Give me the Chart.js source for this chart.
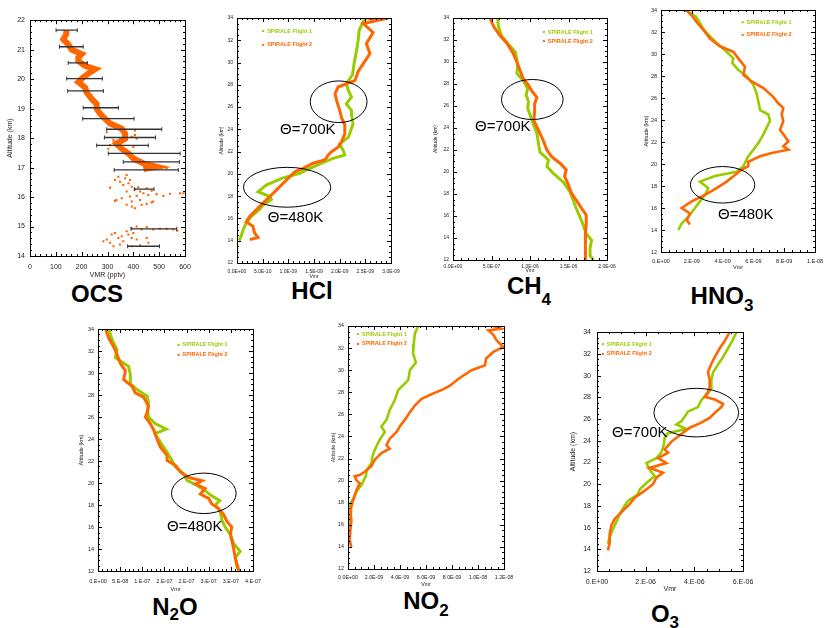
<!DOCTYPE html>
<html>
<head>
<meta charset="utf-8">
<title>SPIRALE profiles</title>
<script src="https://cdn.jsdelivr.net/npm/chart.js@4.4.1/dist/chart.umd.min.js"></script>
<style>
  html, body { margin: 0; padding: 0; background: #fff; }
  body { width: 832px; height: 628px; position: relative; overflow: hidden; font-family: 'Liberation Sans', Arial, sans-serif; }
  canvas { position: absolute; }
  .name { position: absolute; font-weight: bold; font-size: 24px; line-height: 24px; transform: translateX(-50%); white-space: nowrap; color: #000; }
  .name sub { font-size: 17px; line-height: 0; }
</style>
</head>
<body>
<div class="name" style="left:97px;top:282px">OCS</div>
<div class="name" style="left:312px;top:279px">HCl</div>
<div class="name" style="left:529px;top:274px">CH<sub style="vertical-align:-11px">4</sub></div>
<div class="name" style="left:722px;top:284px">HNO<sub style="vertical-align:-7px">3</sub></div>
<div class="name" style="left:175px;top:595px">N<sub style="vertical-align:-5px">2</sub>O</div>
<div class="name" style="left:426px;top:589px">NO<sub style="vertical-align:-7px">2</sub></div>
<div class="name" style="left:665px;top:602px">O<sub style="vertical-align:-6px">3</sub></div>
<script>
// ---- data ----
const altTicks = [12, 14, 16, 18, 20, 22, 24, 26, 28, 30, 32, 34];
const ocsAltTicks = [14, 15, 16, 17, 18, 19, 20, 21, 22];
const ocsXTicks = [0, 100, 200, 300, 400, 500, 600];

// OCS (pptv): dense band, scattered dots, error bars
const ocsBandAlt = [21.66, 21.5, 21.35, 21.18, 21.0, 20.85, 20.73, 20.62, 20.45, 20.34, 20.23, 20.06, 19.9, 19.72, 19.55, 19.33, 19.16, 19.0, 18.83, 18.66, 18.5, 18.32, 18.15, 17.98, 17.81, 17.64, 17.48, 17.31, 17.14, 17.03, 16.95];
const ocsBandVmr = [142, 139, 129, 148, 161, 200, 187, 187, 213, 252, 232, 206, 187, 213, 219, 239, 258, 258, 271, 290, 310, 355, 368, 368, 335, 355, 381, 400, 439, 490, 439];
const ocsDotVmr = [329, 348, 368, 381, 394, 361, 310, 342, 387, 374, 406, 426, 452, 471, 439, 419, 374, 335, 355, 387, 413, 458, 490, 516, 542, 581, 594, 394, 426, 452, 477, 374, 394, 406, 471, 329, 432, 394, 413, 432, 452, 477, 503, 529, 555, 570, 297, 316, 329, 310, 342, 361, 381, 394, 323, 348, 413, 452, 458, 394, 426, 284, 355, 374, 400, 490, 529, 465, 510, 426, 452, 400, 374, 335, 329, 394, 406, 297, 323, 406, 413, 303, 400, 310];
const ocsDotAlt = [16.58, 16.52, 16.64, 16.47, 16.35, 16.41, 16.32, 16.69, 16.58, 16.75, 16.26, 16.19, 16.30, 16.22, 16.13, 16.33, 16.19, 15.9, 15.96, 16.02, 16.04, 16.07, 16.1, 16.04, 16.11, 16.13, 16.13, 15.85, 15.9, 15.77, 15.85, 15.74, 15.68, 15.62, 15.82, 15.87, 15.74, 14.95, 15.0, 14.9, 14.98, 14.9, 14.92, 14.92, 14.9, 14.86, 14.56, 14.73, 14.78, 14.45, 14.61, 14.5, 14.73, 14.61, 14.33, 14.39, 14.56, 14.61, 14.45, 14.33, 14.36, 14.5, 14.67, 14.84, 14.78, 16.97, 16.97, 17.08, 17.03, 17.25, 17.14, 17.36, 17.53, 17.7, 17.87, 18.04, 18.26, 18.2, 17.93, 18.1, 17.98, 17.64, 17.7, 17.76];
const ocsErrAlt = [21.66, 21.1, 20.55, 20.02, 19.6, 19.03, 18.66, 18.3, 18.02, 17.75, 17.48, 17.19, 16.92, 16.27, 14.92, 14.33];
const ocsErrLo = [101, 114, 148, 142, 146, 206, 204, 297, 288, 258, 303, 361, 326, 404, 391, 378];
const ocsErrHi = [183, 206, 222, 280, 284, 342, 403, 510, 486, 458, 581, 578, 574, 480, 568, 501];

// HCl
const hclXTicks = [0, 5e-10, 1e-9, 1.5e-9, 2e-9, 2.5e-9, 3e-9];
const hclXLabels = ['0.0E+00', '5.0E-10', '1.0E-09', '1.5E-09', '2.0E-09', '2.5E-09', '3.0E-09'];
const hclF1Alt = [34, 32.9, 32, 31.1, 29.9, 28.9, 28.1, 27.5, 26.9, 26.3, 25.7, 25.3, 24.5, 24.1, 23.3, 22.7, 22.1, 21.7, 21.4, 20.96, 20.5, 20.06, 19.6, 19.0, 18.4, 17.97, 17.7, 17.2, 16.8, 16.2, 15.6, 15.0, 14.4, 14.0];
const hclF1Vmr = [2.49e-9, 2.38e-9, 2.36e-9, 2.33e-9, 2.28e-9, 2.25e-9, 2.13e-9, 2.17e-9, 2.23e-9, 2.13e-9, 2.23e-9, 2.23e-9, 2.26e-9, 2.23e-9, 2.17e-9, 2.00e-9, 2.07e-9, 2.10e-9, 1.87e-9, 1.65e-9, 1.42e-9, 1.22e-9, 0.87e-9, 0.57e-9, 0.41e-9, 0.64e-9, 0.67e-9, 0.51e-9, 0.44e-9, 0.28e-9, 0.18e-9, 0.12e-9, 0.08e-9, 0.04e-9];
const hclF2Alt = [34, 33.85, 33.5, 32.7, 31.7, 30.8, 30.1, 29.2, 28.4, 27.8, 27.2, 26.6, 25.7, 25.0, 24.4, 23.6, 22.9, 22.4, 22.0, 21.7, 21.25, 20.96, 20.5, 20.2, 19.76, 19.16, 18.57, 17.97, 17.4, 16.8, 16.2, 15.7, 15.3, 14.7, 14.3, 14.1];
const hclF2Vmr = [2.50e-9, 2.80e-9, 2.46e-9, 2.65e-9, 2.52e-9, 2.59e-9, 2.49e-9, 2.36e-9, 2.30e-9, 1.97e-9, 1.91e-9, 1.94e-9, 2.00e-9, 2.04e-9, 2.10e-9, 2.10e-9, 2.04e-9, 1.97e-9, 1.84e-9, 1.78e-9, 1.71e-9, 1.48e-9, 1.29e-9, 1.13e-9, 1.03e-9, 0.90e-9, 0.77e-9, 0.64e-9, 0.51e-9, 0.38e-9, 0.25e-9, 0.18e-9, 0.31e-9, 0.34e-9, 0.41e-9, 0.25e-9];

// CH4
const ch4XTicks = [0, 5e-7, 1e-6, 1.5e-6, 2e-6];
const ch4XLabels = ['0.0E+00', '5.0E-07', '1.0E-06', '1.5E-06', '2.0E-06'];
const ch4F1Alt = [34, 33.2, 32.4, 31.7, 30.9, 30.2, 29.6, 28.95, 28.35, 27.6, 27.0, 26.4, 25.8, 25.2, 24.4, 23.5, 22.6, 21.8, 21.1, 20.5, 19.9, 19.1, 18.2, 17.45, 16.7, 15.9, 15.2, 14.4, 13.8, 13.1, 12.4, 12.0];
const ch4F1Vmr = [0.58e-6, 0.59e-6, 0.63e-6, 0.71e-6, 0.81e-6, 0.83e-6, 0.84e-6, 0.83e-6, 0.91e-6, 0.97e-6, 0.95e-6, 0.98e-6, 0.97e-6, 1.00e-6, 1.04e-6, 1.09e-6, 1.11e-6, 1.13e-6, 1.24e-6, 1.22e-6, 1.30e-6, 1.43e-6, 1.52e-6, 1.56e-6, 1.60e-6, 1.65e-6, 1.69e-6, 1.73e-6, 1.80e-6, 1.78e-6, 1.78e-6, 1.82e-6];
const ch4F2Alt = [34, 33.2, 32.4, 31.7, 30.8, 30.0, 29.25, 28.5, 27.9, 27.4, 26.8, 26.2, 25.5, 24.7, 23.8, 22.9, 22.0, 21.4, 20.8, 20.2, 19.6, 18.8, 18.05, 17.45, 16.7, 16.1, 15.3, 14.4, 13.2, 12.0];
const ch4F2Vmr = [0.48e-6, 0.53e-6, 0.61e-6, 0.70e-6, 0.78e-6, 0.83e-6, 0.87e-6, 0.91e-6, 0.98e-6, 1.02e-6, 1.09e-6, 1.06e-6, 1.06e-6, 1.05e-6, 1.11e-6, 1.17e-6, 1.22e-6, 1.28e-6, 1.39e-6, 1.47e-6, 1.45e-6, 1.50e-6, 1.54e-6, 1.60e-6, 1.67e-6, 1.73e-6, 1.73e-6, 1.72e-6, 1.72e-6, 1.72e-6];

// HNO3
const hno3XTicks = [0, 2e-9, 4e-9, 6e-9, 8e-9, 1e-8];
const hno3XLabels = ['0.E+00', '2.E-09', '4.E-09', '6.E-09', '8.E-09', '1.E-08'];
const hno3F1Alt = [34, 33.4, 32.8, 32.2, 31.6, 31.0, 30.2, 29.6, 29.2, 28.55, 28.0, 27.2, 26.4, 25.7, 24.9, 24.5, 23.9, 23.3, 22.7, 21.9, 21.3, 20.7, 20.1, 19.8, 19.3, 18.9, 18.4, 17.8, 17.2, 16.6, 16.0, 15.2, 14.6, 14.0];
const hno3F1Vmr = [1.56e-9, 2.27e-9, 2.53e-9, 2.79e-9, 3.18e-9, 3.61e-9, 4.26e-9, 4.70e-9, 4.63e-9, 5.02e-9, 5.56e-9, 6.00e-9, 6.21e-9, 6.32e-9, 6.43e-9, 6.97e-9, 7.08e-9, 6.86e-9, 6.65e-9, 6.32e-9, 6.00e-9, 5.67e-9, 5.45e-9, 5.35e-9, 4.91e-9, 3.50e-9, 2.53e-9, 3.07e-9, 2.86e-9, 2.53e-9, 2.21e-9, 1.77e-9, 1.34e-9, 1.13e-9];
const hno3F2Alt = [34, 33.5, 32.9, 32.2, 31.4, 30.7, 30.2, 29.6, 28.85, 28.1, 27.5, 26.9, 26.1, 25.5, 25.1, 24.5, 23.9, 23.1, 22.5, 22.05, 21.6, 21.3, 21.0, 20.7, 20.2, 19.8, 19.5, 19.0, 18.4, 17.8, 17.2, 16.6, 16.0, 15.5, 14.9, 14.5];
const hno3F2Vmr = [1.67e-9, 2.00e-9, 2.32e-9, 2.75e-9, 3.18e-9, 3.83e-9, 4.70e-9, 5.02e-9, 5.45e-9, 5.35e-9, 5.89e-9, 6.65e-9, 7.29e-9, 7.62e-9, 7.94e-9, 7.84e-9, 7.94e-9, 7.73e-9, 8.05e-9, 8.27e-9, 7.94e-9, 8.27e-9, 7.19e-9, 6.43e-9, 5.67e-9, 5.67e-9, 5.24e-9, 4.81e-9, 4.26e-9, 3.61e-9, 2.86e-9, 2.00e-9, 1.34e-9, 1.88e-9, 1.67e-9, 1.88e-9];

// N2O
const n2oXTicks = [0, 5e-8, 1e-7, 1.5e-7, 2e-7, 2.5e-7, 3e-7, 3.5e-7];
const n2oXLabels = ['0.E+00', '5.E-08', '1.E-07', '2.E-07', '2.E-07', '3.E-07', '3.E-07', '4.E-07'];
const n2oF1Alt = [34, 33.0, 32.1, 31.4, 30.6, 29.9, 29.0, 28.5, 27.9, 27.3, 26.6, 26.0, 25.4, 24.9, 24.5, 23.7, 22.8, 22.05, 21.45, 20.85, 20.24, 19.8, 19.3, 18.9, 18.4, 18.0, 17.4, 16.6, 16.0, 15.3, 14.5, 13.8, 13.2, 12.4, 12.0];
const n2oF1Vmr = [0.24e-7, 0.32e-7, 0.43e-7, 0.39e-7, 0.69e-7, 0.73e-7, 0.73e-7, 0.88e-7, 1.11e-7, 1.14e-7, 1.12e-7, 1.14e-7, 1.29e-7, 1.54e-7, 1.29e-7, 1.41e-7, 1.56e-7, 1.67e-7, 1.75e-7, 1.93e-7, 2.01e-7, 2.23e-7, 2.42e-7, 2.54e-7, 2.75e-7, 2.65e-7, 2.76e-7, 2.80e-7, 2.87e-7, 2.99e-7, 3.06e-7, 3.21e-7, 3.10e-7, 3.14e-7, 3.18e-7];
const n2oF2Alt = [34, 33.2, 32.4, 31.7, 30.9, 30.2, 29.4, 28.8, 28.2, 27.8, 27.0, 26.4, 26.0, 25.4, 24.8, 24.0, 23.25, 22.5, 22.05, 21.6, 21.0, 20.5, 20.2, 19.9, 19.5, 19.0, 18.6, 18.1, 17.7, 17.1, 16.5, 16.0, 15.4, 14.8, 14.1, 13.2, 12.0];
const n2oF2Vmr = [0.17e-7, 0.24e-7, 0.35e-7, 0.43e-7, 0.50e-7, 0.62e-7, 0.58e-7, 0.77e-7, 0.84e-7, 1.03e-7, 1.14e-7, 1.11e-7, 1.07e-7, 1.18e-7, 1.26e-7, 1.33e-7, 1.41e-7, 1.56e-7, 1.56e-7, 1.75e-7, 1.86e-7, 2.05e-7, 2.35e-7, 2.20e-7, 2.42e-7, 2.31e-7, 2.50e-7, 2.57e-7, 2.72e-7, 2.84e-7, 2.91e-7, 3.02e-7, 2.99e-7, 3.02e-7, 3.06e-7, 3.10e-7, 3.18e-7];

// NO2
const no2XTicks = [0, 2e-9, 4e-9, 6e-9, 8e-9, 1e-8, 1.2e-8];
const no2XLabels = ['0.0E+00', '2.0E-09', '4.0E-09', '6.0E-09', '8.0E-09', '1.0E-08', '1.2E-08'];
const no2F1Alt = [34, 33.3, 32.4, 31.5, 30.7, 30.0, 29.1, 28.2, 27.3, 26.4, 25.5, 24.9, 24.4, 23.7, 22.8, 22.2, 21.6, 21.0, 20.4, 19.6, 19.0, 18.4, 17.9, 17.3, 16.4, 15.7, 14.9, 14.2];
const no2F1Vmr = [5.40e-9, 5.14e-9, 5.06e-9, 5.01e-9, 5.22e-9, 4.76e-9, 4.63e-9, 3.86e-9, 3.60e-9, 3.21e-9, 2.96e-9, 2.57e-9, 2.83e-9, 2.44e-9, 2.06e-9, 1.88e-9, 1.80e-9, 1.47e-9, 1.36e-9, 1.03e-9, 0.64e-9, 0.44e-9, 0.13e-9, 0.26e-9, 0.13e-9, 0.02e-9, 0.08e-9, 0.13e-9];
const no2F2Alt = [34, 33.76, 33.6, 33.2, 32.7, 32.1, 31.65, 31.05, 30.45, 30.0, 29.2, 28.6, 28.2, 27.9, 27.4, 26.8, 26.2, 25.5, 24.9, 24.4, 23.8, 23.2, 22.9, 22.5, 21.9, 21.3, 20.8, 20.5, 20.4, 20.05, 19.75, 19.1, 18.2, 17.3, 16.4, 15.5, 14.6, 14.0];
const no2F2Vmr = [11.18e-9, 11.8e-9, 10.8e-9, 11.18e-9, 11.44e-9, 11.95e-9, 11.18e-9, 10.62e-9, 10.54e-9, 9.51e-9, 8.48e-9, 7.84e-9, 7.20e-9, 6.56e-9, 5.66e-9, 5.14e-9, 4.76e-9, 4.37e-9, 3.98e-9, 3.73e-9, 3.21e-9, 2.96e-9, 3.21e-9, 2.57e-9, 2.06e-9, 1.80e-9, 1.29e-9, 0.90e-9, 0.51e-9, 0.64e-9, 0.90e-9, 0.64e-9, 0.39e-9, 0.18e-9, 0.26e-9, 0.18e-9, 0.13e-9, 0.26e-9];

// O3
const o3XTicks = [0, 2e-6, 4e-6, 6e-6];
const o3XLabels = ['0.E+00', '2.E-06', '4.E-06', '6.E-06'];
const o3F1Alt = [34, 33.2, 32.5, 31.7, 31.0, 30.3, 29.6, 28.8, 28.35, 27.75, 27.1, 26.7, 26.2, 25.8, 25.5, 25.1, 24.7, 24.25, 23.6, 22.9, 22.4, 21.95, 21.35, 20.75, 20.1, 19.5, 19.06, 18.45, 17.8, 17.2, 16.5, 15.9, 15.1, 14.5];
const o3F1Vmr = [5.73e-6, 5.56e-6, 5.38e-6, 5.18e-6, 4.97e-6, 4.77e-6, 4.70e-6, 4.70e-6, 4.56e-6, 4.29e-6, 4.15e-6, 3.74e-6, 3.60e-6, 3.47e-6, 3.26e-6, 3.67e-6, 2.92e-6, 2.78e-6, 2.74e-6, 2.64e-6, 2.44e-6, 2.03e-6, 2.16e-6, 2.37e-6, 2.03e-6, 1.75e-6, 1.68e-6, 1.27e-6, 1.07e-6, 0.93e-6, 0.79e-6, 0.66e-6, 0.52e-6, 0.45e-6];
const o3F2Alt = [34, 33.2, 32.5, 31.7, 31.1, 30.3, 29.7, 28.96, 28.5, 28.05, 27.8, 27.4, 27.1, 26.7, 26.1, 25.6, 25.2, 24.5, 23.9, 23.2, 22.9, 22.4, 21.95, 21.5, 21.05, 20.6, 20.0, 19.4, 18.75, 18.15, 17.4, 16.8, 16.2, 15.4, 14.6, 13.9];
const o3F2Vmr = [5.45e-6, 5.25e-6, 5.04e-6, 4.84e-6, 4.70e-6, 4.56e-6, 4.63e-6, 4.63e-6, 4.56e-6, 4.42e-6, 4.84e-6, 5.18e-6, 5.11e-6, 4.90e-6, 4.63e-6, 4.22e-6, 3.81e-6, 3.40e-6, 3.05e-6, 2.78e-6, 2.92e-6, 2.51e-6, 2.85e-6, 2.16e-6, 2.71e-6, 2.44e-6, 2.30e-6, 1.96e-6, 1.55e-6, 1.34e-6, 1.00e-6, 0.73e-6, 0.59e-6, 0.52e-6, 0.52e-6, 0.45e-6];

// ---- drawing ----
const GREEN = '#99cc00';
const ORANGE = '#ff6600';
const FONT = "'Liberation Sans', Arial, sans-serif";

function pts(xs, ys) {
  return xs.map((v, i) => ({ x: v, y: ys[i] }));
}

function profile(label, vmr, alt, color, order, width) {
  return { label: label, data: pts(vmr, alt), showLine: true, borderColor: color, backgroundColor: color,
           borderWidth: width || 3, pointRadius: 0, order: order };
}

// box around the plot and inward ticks on all four sides
const framePlugin = {
  id: 'frame',
  afterDraw(chart) {
    const o = chart.options.plugins.frame;
    const { ctx, chartArea: a } = chart;
    const x = chart.scales.x, y = chart.scales.y;
    ctx.save();
    ctx.strokeStyle = '#000';
    ctx.lineWidth = 1;
    ctx.strokeRect(Math.round(a.left) + 0.5, Math.round(a.top) + 0.5, Math.round(a.right - a.left), Math.round(a.bottom - a.top));
    ctx.beginPath();
    const nx = Math.round((x.max - x.min) / o.xMinor);
    for (let i = 0; i <= nx; i++) {
      const px = Math.round(x.getPixelForValue(x.min + i * o.xMinor)) + 0.5;
      const len = i % o.xEvery === 0 ? 4 : 2;
      ctx.moveTo(px, a.bottom); ctx.lineTo(px, a.bottom - len);
      ctx.moveTo(px, a.top); ctx.lineTo(px, a.top + len);
    }
    const ny = Math.round((y.max - y.min) / o.yMinor);
    for (let i = 0; i <= ny; i++) {
      const py = Math.round(y.getPixelForValue(y.min + i * o.yMinor)) + 0.5;
      const len = i % o.yEvery === 0 ? 4 : 2;
      ctx.moveTo(a.left, py); ctx.lineTo(a.left + len, py);
      ctx.moveTo(a.right, py); ctx.lineTo(a.right - len, py);
    }
    ctx.stroke();
    ctx.restore();
  }
};

// ellipses, theta labels and the small flight legend
const overlayPlugin = {
  id: 'overlay',
  afterDatasetsDraw(chart) {
    const o = chart.options.plugins.overlay;
    if (!o) return;
    const { ctx, chartArea: a } = chart;
    const x = chart.scales.x, y = chart.scales.y;
    const aw = a.right - a.left, ah = a.bottom - a.top;
    ctx.save();
    (o.ellipses || []).forEach(e => {
      const cx = x.getPixelForValue(e.x), cy = y.getPixelForValue(e.y);
      const rx = Math.abs(x.getPixelForValue(e.x + e.rx) - cx);
      const ry = Math.abs(y.getPixelForValue(e.y + e.ry) - cy);
      ctx.beginPath();
      ctx.ellipse(cx, cy, rx, ry, 0, 0, Math.PI * 2);
      ctx.strokeStyle = '#000';
      ctx.lineWidth = 1;
      ctx.stroke();
    });
    ctx.textBaseline = 'middle';
    ctx.textAlign = 'left';
    (o.labels || []).forEach(t => {
      ctx.font = '15px ' + FONT;
      ctx.fillStyle = '#000';
      ctx.fillText(t.text, a.left + t.fx * aw, a.top + t.fy * ah);
    });
    (o.legend || []).forEach(l => {
      const px = a.left + l.fx * aw, py = a.top + l.fy * ah;
      ctx.fillStyle = l.color;
      ctx.fillRect(px - 1, py - 1, 2, 2);
      ctx.font = 'bold 5.5px ' + FONT;
      ctx.fillText(l.text, px + 4, py);
    });
    ctx.restore();
  }
};

function spiraleLegend(fx, fy1, fy2) {
  return [
    { fx: fx, fy: fy1, text: 'SPIRALE Flight 1', color: GREEN },
    { fx: fx, fy: fy2, text: 'SPIRALE Flight 2', color: ORANGE }
  ];
}

function makePanel(p) {
  const T = 8, R = 18;
  const L = Math.round(p.yTitleGap + 0.6 * p.fs);
  const B = Math.round(p.xTitleGap + 0.6 * p.fs);
  const W = p.w + L + R, H = p.h + T + B;
  const cv = document.createElement('canvas');
  cv.width = W; cv.height = H;
  cv.style.left = (p.left - L) + 'px';
  cv.style.top = (p.top - T) + 'px';
  cv.style.width = W + 'px';
  cv.style.height = H + 'px';
  document.body.appendChild(cv);
  const font = { family: FONT, size: p.fs };
  new Chart(cv, {
    type: 'scatter',
    data: { datasets: p.datasets },
    options: {
      responsive: false,
      animation: false,
      devicePixelRatio: 1,
      layout: { padding: { top: T, right: R, left: 0, bottom: 0 } },
      plugins: { legend: { display: false }, tooltip: { enabled: false }, frame: p.frame, overlay: p.overlay },
      scales: {
        x: {
          type: 'linear',
          min: p.xTicks[0],
          max: p.xTicks[p.xTicks.length - 1],
          afterBuildTicks: s => { s.ticks = p.xTicks.map(v => ({ value: v })); },
          afterFit: s => { s.height = B; },
          grid: { display: false, drawTicks: false },
          border: { display: false },
          ticks: { autoSkip: false, maxRotation: 0, minRotation: 0, padding: p.xLabelGap - 0.6 * p.fs, font: font, color: '#222',
                   callback: (v, i) => p.xLabels[i] },
          title: { display: true, text: p.xTitle, font: font, color: '#222', padding: 0 }
        },
        y: {
          type: 'linear',
          min: p.yTicks[0],
          max: p.yTicks[p.yTicks.length - 1],
          afterBuildTicks: s => { s.ticks = p.yTicks.map(v => ({ value: v })); },
          afterFit: s => { s.width = L; },
          grid: { display: false, drawTicks: false },
          border: { display: false },
          ticks: { autoSkip: false, padding: p.yPad, font: font, color: '#222', callback: v => String(v) },
          title: { display: true, text: 'Altitude (km)', font: font, color: '#222', padding: 0 }
        }
      }
    },
    plugins: [framePlugin, overlayPlugin]
  });
}

// OCS
const ocsDatasets = ocsErrAlt.map((h, i) => ({
  data: [{ x: ocsErrLo[i], y: h }, { x: ocsErrHi[i], y: h }],
  showLine: true, borderColor: '#333', borderWidth: 1.3,
  pointStyle: 'line', rotation: 90, pointRadius: 2, pointBorderColor: '#333', pointBorderWidth: 1, order: 0
}));
ocsDatasets.push({ data: pts(ocsDotVmr, ocsDotAlt), pointStyle: 'rect', pointRadius: 1.5, backgroundColor: ORANGE, borderColor: ORANGE, borderWidth: 0, order: 1 });
ocsDatasets.push({ data: pts(ocsBandVmr, ocsBandAlt), showLine: true, borderColor: ORANGE, borderWidth: 6, pointRadius: 0, order: 2 });

makePanel({
  left: 30, top: 19, w: 155, h: 237, fs: 7, xLabelGap: 11, xTitleGap: 19, yTitleGap: 20, yPad: 5,
  xTicks: ocsXTicks, xLabels: ocsXTicks.map(String), yTicks: ocsAltTicks, xTitle: 'VMR (pptv)',
  datasets: ocsDatasets,
  frame: { xMinor: 20, xEvery: 5, yMinor: 0.2, yEvery: 5 }
});

makePanel({
  left: 237, top: 18, w: 154, h: 245, fs: 5, xLabelGap: 8.5, xTitleGap: 14, yTitleGap: 15, yPad: 4,
  xTicks: hclXTicks, xLabels: hclXLabels, yTicks: altTicks, xTitle: 'Vmr',
  datasets: [profile('SPIRALE Flight 2', hclF2Vmr, hclF2Alt, ORANGE, 0), profile('SPIRALE Flight 1', hclF1Vmr, hclF1Alt, GREEN, 1)],
  frame: { xMinor: 1e-10, xEvery: 5, yMinor: 0.5, yEvery: 4 },
  overlay: {
    ellipses: [{ x: 1.98e-9, y: 26.48, rx: 0.553e-9, ry: 1.87 }, { x: 0.976e-9, y: 18.8, rx: 0.85e-9, ry: 1.79 }],
    labels: [{ fx: 0.28, fy: 0.457, text: 'Θ=700K' }, { fx: 0.20, fy: 0.816, text: 'Θ=480K' }],
    legend: spiraleLegend(0.17, 0.053, 0.11)
  }
});

makePanel({
  left: 453, top: 18, w: 154, h: 242, fs: 5, xLabelGap: 7, xTitleGap: 11, yTitleGap: 17, yPad: 4,
  xTicks: ch4XTicks, xLabels: ch4XLabels, yTicks: altTicks, xTitle: 'Vmr',
  datasets: [profile('SPIRALE Flight 2', ch4F2Vmr, ch4F2Alt, ORANGE, 0), profile('SPIRALE Flight 1', ch4F1Vmr, ch4F1Alt, GREEN, 1)],
  frame: { xMinor: 1e-7, xEvery: 5, yMinor: 0.5, yEvery: 4 },
  overlay: {
    ellipses: [{ x: 1.03e-6, y: 26.59, rx: 0.40e-6, ry: 1.82 }],
    labels: [{ fx: 0.143, fy: 0.45, text: 'Θ=700K' }],
    legend: spiraleLegend(0.59, 0.058, 0.095)
  }
});

makePanel({
  left: 661, top: 10, w: 154, h: 242, fs: 5.5, xLabelGap: 9.7, xTitleGap: 15.7, yTitleGap: 15, yPad: 4,
  xTicks: hno3XTicks, xLabels: hno3XLabels, yTicks: altTicks, xTitle: 'Vmr',
  datasets: [profile('SPIRALE Flight 2', hno3F2Vmr, hno3F2Alt, ORANGE, 0, 2.6), profile('SPIRALE Flight 1', hno3F1Vmr, hno3F1Alt, GREEN, 1, 2.6)],
  frame: { xMinor: 5e-10, xEvery: 4, yMinor: 0.5, yEvery: 4 },
  overlay: {
    ellipses: [{ x: 4.0e-9, y: 18.11, rx: 2.09e-9, ry: 1.66 }],
    labels: [{ fx: 0.37, fy: 0.847, text: 'Θ=480K' }],
    legend: spiraleLegend(0.53, 0.05, 0.103)
  }
});

makePanel({
  left: 98, top: 329, w: 155, h: 242, fs: 5.5, xLabelGap: 10, xTitleGap: 19, yTitleGap: 17, yPad: 4,
  xTicks: n2oXTicks, xLabels: n2oXLabels, yTicks: altTicks, xTitle: 'Vmr',
  datasets: [profile('SPIRALE Flight 2', n2oF2Vmr, n2oF2Alt, ORANGE, 0), profile('SPIRALE Flight 1', n2oF1Vmr, n2oF1Alt, GREEN, 1)],
  frame: { xMinor: 1e-8, xEvery: 5, yMinor: 0.5, yEvery: 4 },
  overlay: {
    ellipses: [{ x: 2.39e-7, y: 19.06, rx: 0.73e-7, ry: 1.84 }],
    labels: [{ fx: 0.445, fy: 0.816, text: 'Θ=480K' }],
    legend: spiraleLegend(0.52, 0.066, 0.107)
  }
});

makePanel({
  left: 348, top: 326, w: 156, h: 243, fs: 5.3, xLabelGap: 8.7, xTitleGap: 16, yTitleGap: 15, yPad: 4,
  xTicks: no2XTicks, xLabels: no2XLabels, yTicks: altTicks, xTitle: 'Vmr',
  datasets: [profile('SPIRALE Flight 2', no2F2Vmr, no2F2Alt, ORANGE, 0, 2.6), profile('SPIRALE Flight 1', no2F1Vmr, no2F1Alt, GREEN, 1, 2.6)],
  frame: { xMinor: 5e-10, xEvery: 4, yMinor: 0.5, yEvery: 4 },
  overlay: { legend: spiraleLegend(0.064, 0.033, 0.074) }
});

makePanel({
  left: 597, top: 330, w: 146, h: 241, fs: 7, xLabelGap: 11, xTitleGap: 18, yTitleGap: 24, yPad: 6,
  xTicks: o3XTicks, xLabels: o3XLabels, yTicks: altTicks, xTitle: 'Vmr',
  datasets: [profile('SPIRALE Flight 2', o3F2Vmr, o3F2Alt, ORANGE, 0, 2.6), profile('SPIRALE Flight 1', o3F1Vmr, o3F1Alt, GREEN, 1, 2.6)],
  frame: { xMinor: 5e-7, xEvery: 4, yMinor: 0.5, yEvery: 4 },
  overlay: {
    ellipses: [{ x: 4.08e-6, y: 26.59, rx: 1.74e-6, ry: 2.24 }],
    labels: [{ fx: 0.103, fy: 0.42, text: 'Θ=700K' }],
    legend: spiraleLegend(0.04, 0.05, 0.091)
  }
});
</script>
</body>
</html>
